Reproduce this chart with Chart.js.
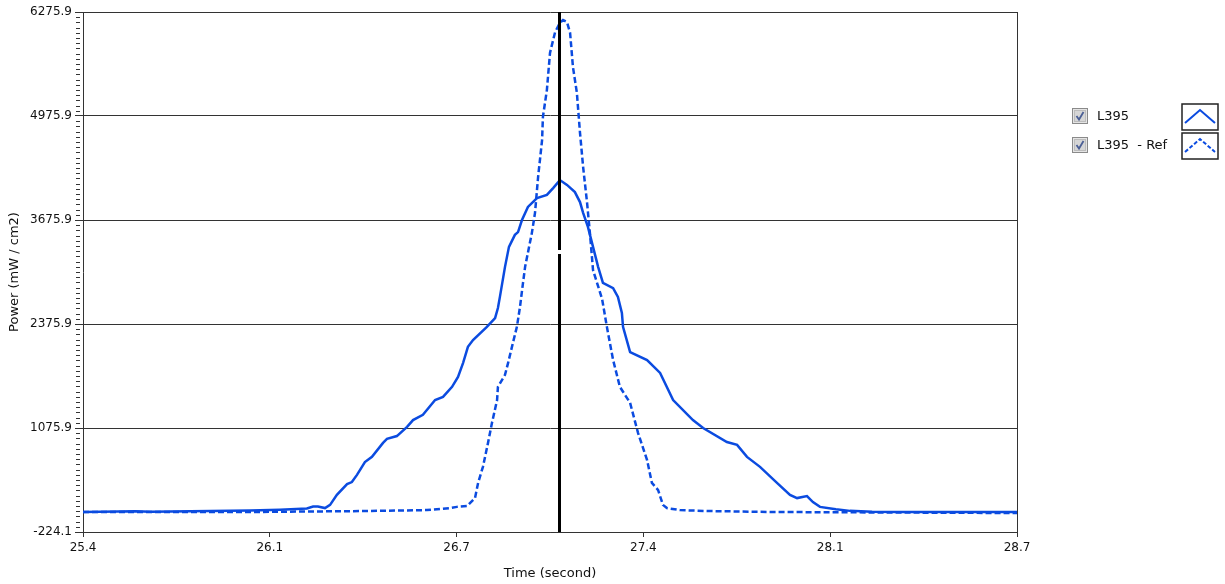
<!DOCTYPE html>
<html>
<head>
<meta charset="utf-8">
<title>L395 power</title>
<script src="https://cdn.jsdelivr.net/npm/chart.js@4.4.1/dist/chart.umd.min.js"></script>
<style>
  html, body { margin: 0; padding: 0; background: #fff; }
  #wrap { position: relative; width: 1225px; height: 584px; }
  .lbl { position: absolute; font: 13px "DejaVu Sans", sans-serif; color: #111; white-space: pre; line-height: 15px; }
  .chk, .ico { position: absolute; }
</style>
</head>
<body>
<div id="wrap">
  <canvas id="powerChart" width="1225" height="584"></canvas>

  <!-- legend with check boxes, like the original panel -->
  <svg class="chk" style="left:1072px;top:108px" width="16" height="16">
    <rect x="0.5" y="0.5" width="15" height="15" fill="#e4e4e4" stroke="#8a8a8a"/>
    <rect x="2.5" y="2.5" width="11" height="11" fill="#d6d6d6" stroke="#bcbcbc"/>
    <polyline points="4.5,8 7,11.5 11.5,4" fill="none" stroke="#4b5f95" stroke-width="1.8"/>
  </svg>
  <div class="lbl" style="left:1097px;top:108px">L395</div>
  <svg class="ico" style="left:1181px;top:103px" width="38" height="28">
    <rect x="1" y="1" width="36" height="26" fill="#fff" stroke="#222" stroke-width="1.5"/>
    <polyline points="4,20 19,7 34,20" fill="none" stroke="#0b4be0" stroke-width="2"/>
  </svg>

  <svg class="chk" style="left:1072px;top:137px" width="16" height="16">
    <rect x="0.5" y="0.5" width="15" height="15" fill="#e4e4e4" stroke="#8a8a8a"/>
    <rect x="2.5" y="2.5" width="11" height="11" fill="#d6d6d6" stroke="#bcbcbc"/>
    <polyline points="4.5,8 7,11.5 11.5,4" fill="none" stroke="#4b5f95" stroke-width="1.8"/>
  </svg>
  <div class="lbl" style="left:1097px;top:137px">L395  - Ref</div>
  <svg class="ico" style="left:1181px;top:132px" width="38" height="28">
    <rect x="1" y="1" width="36" height="26" fill="#fff" stroke="#222" stroke-width="1.5"/>
    <polyline points="4,20 19,7 34,20" fill="none" stroke="#0b4be0" stroke-width="2" stroke-dasharray="4,2"/>
  </svg>
</div>

<script>
// data
const solidTime = [25.400, 25.585, 25.640, 25.990, 26.096, 26.191, 26.213, 26.230, 26.255, 26.273,
  26.297, 26.333, 26.350, 26.368, 26.396, 26.421, 26.460, 26.474, 26.509, 26.545,
  26.566, 26.601, 26.644, 26.672, 26.704, 26.725, 26.743, 26.760, 26.778, 26.827,
  26.856, 26.866, 26.873, 26.891, 26.905, 26.926, 26.937, 26.951, 26.972, 27.004,
  27.039, 27.061, 27.085, 27.110, 27.138, 27.156, 27.167, 27.184, 27.202, 27.220,
  27.237, 27.273, 27.290, 27.304, 27.308, 27.333, 27.393, 27.439, 27.485, 27.555,
  27.591, 27.675, 27.711, 27.746, 27.792, 27.852, 27.898, 27.923, 27.958, 27.979,
  28.004, 28.060, 28.110, 28.188, 28.287, 28.700];
const solidPower = [26, 35, 30, 45, 55, 70, 95, 95, 75, 115,
  240, 375, 400, 490, 650, 715, 890, 940, 975, 1090,
  1175, 1240, 1425, 1465, 1590, 1715, 1890, 2090, 2175, 2340,
  2450, 2575, 2715, 3090, 3340, 3490, 3525, 3675, 3840, 3950,
  3990, 4075, 4175, 4115, 4025, 3900, 3765, 3590, 3340, 3090,
  2890, 2825, 2715, 2515, 2340, 2025, 1925, 1765, 1425, 1175,
  1075, 900, 865, 715, 590, 390, 240, 200, 225, 150,
  90, 60, 40, 30, 26, 26];

const refTime = [25.400, 25.990, 26.396, 26.615, 26.697, 26.721, 26.757, 26.785, 26.796, 26.813,
  26.831, 26.845, 26.863, 26.866, 26.891, 26.902, 26.919, 26.933, 26.944, 26.955,
  26.962, 26.986, 26.997, 27.008, 27.022, 27.025, 27.039, 27.050, 27.068, 27.085,
  27.096, 27.110, 27.121, 27.131, 27.145, 27.156, 27.167, 27.181, 27.191, 27.202,
  27.234, 27.251, 27.273, 27.297, 27.333, 27.361, 27.393, 27.410, 27.432, 27.449,
  27.463, 27.509, 27.605, 27.838, 28.700];
const refPower = [26, 26, 38, 50, 75, 90, 100, 200, 390, 590,
  890, 1140, 1425, 1590, 1740, 1890, 2140, 2340, 2590, 2900,
  3090, 3515, 3765, 4215, 4675, 4965, 5300, 5765, 6025, 6140,
  6175, 6150, 6015, 5590, 5265, 4765, 4340, 3890, 3515, 3050,
  2690, 2340, 1925, 1590, 1390, 1015, 675, 390, 300, 115,
  75, 50, 38, 26, 13];

const xTickLabels = ['25.4', '26.1', '26.7', '27.4', '28.1', '28.7'];
const yTickLabels = ['-224.1', '1075.9', '2375.9', '3675.9', '4975.9', '6275.9'];
const cursorTime = 27.082;
const cursorGap = [3250, 3300];

const xMin = Number(xTickLabels[0]);
const xMax = Number(xTickLabels[xTickLabels.length - 1]);
const yTickValues = yTickLabels.map(Number);
const yMinorPerMajor = 20;
const blue = '#0b4be0';
const axisColor = '#333';
const tickFont = { family: 'DejaVu Sans', size: 12 };
const titleFont = { family: 'DejaVu Sans', size: 13 };

// vertical cursor line (with its little gap) and short minor ticks on y
const cursorLine = {
  id: 'cursorLine',
  afterDatasetsDraw(chart) {
    const { ctx, chartArea, scales } = chart;
    const px = Math.round(scales.x.getPixelForValue(cursorTime)) + 0.5;
    const gapTop = scales.y.getPixelForValue(cursorGap[1]);
    const gapBottom = scales.y.getPixelForValue(cursorGap[0]);
    ctx.save();
    ctx.strokeStyle = '#000';
    ctx.lineWidth = 3;
    ctx.beginPath();
    ctx.moveTo(px, chartArea.top);
    ctx.lineTo(px, gapTop);
    ctx.moveTo(px, gapBottom);
    ctx.lineTo(px, chartArea.bottom);
    ctx.stroke();

    // minor ticks
    const y = scales.y;
    ctx.strokeStyle = axisColor;
    ctx.lineWidth = 1;
    ctx.beginPath();
    y.ticks.forEach((t, i) => {
      if (i % yMinorPerMajor === 0) return;
      const py = Math.round(y.getPixelForValue(t.value)) + 0.5;
      ctx.moveTo(chartArea.left - 7, py);
      ctx.lineTo(chartArea.left - 3, py);
    });
    ctx.stroke();
    ctx.restore();
  }
};

const ctx = document.getElementById('powerChart').getContext('2d');
const powerChart = new Chart(ctx, {
  type: 'line',
  data: {
    datasets: [
      {
        label: 'L395',
        data: solidTime.map((t, i) => ({ x: t, y: solidPower[i] })),
        borderColor: blue,
        borderWidth: 2.5,
        pointRadius: 0,
        tension: 0,
        fill: false
      },
      {
        label: 'L395  - Ref',
        data: refTime.map((t, i) => ({ x: t, y: refPower[i] })),
        borderColor: blue,
        borderWidth: 2.5,
        borderDash: [6, 3],
        pointRadius: 0,
        tension: 0,
        fill: false
      }
    ]
  },
  options: {
    responsive: false,
    animation: false,
    devicePixelRatio: 1,
    layout: { padding: { top: 12, right: 208, left: 0, bottom: 0 } },
    plugins: {
      legend: { display: false },
      tooltip: { enabled: false }
    },
    scales: {
      x: {
        type: 'linear',
        min: xMin,
        max: xMax,
        afterBuildTicks(axis) {
          const n = xTickLabels.length - 1;
          axis.ticks = xTickLabels.map((_, i) => ({ value: xMin + i * (xMax - xMin) / n }));
        },
        afterFit(axis) { axis.height = 52; },
        ticks: {
          autoSkip: false,
          maxRotation: 0,
          padding: 4,
          color: '#111',
          font: tickFont,
          callback: (v, i) => xTickLabels[i]
        },
        grid: {
          color: (c) => c.index === xTickLabels.length - 1 ? axisColor : 'rgba(0,0,0,0)',
          tickColor: axisColor,
          tickLength: 5
        },
        border: { color: axisColor, width: 1 },
        title: {
          display: true,
          text: 'Time (second)',
          color: '#111',
          font: titleFont,
          padding: { top: 3, bottom: 3 }
        }
      },
      y: {
        type: 'linear',
        min: yTickValues[0],
        max: yTickValues[yTickValues.length - 1],
        afterBuildTicks(axis) {
          const ticks = [];
          for (let i = 0; i < yTickValues.length - 1; i++) {
            const a = yTickValues[i], b = yTickValues[i + 1];
            for (let k = 0; k < yMinorPerMajor; k++) {
              ticks.push({ value: a + (b - a) * k / yMinorPerMajor });
            }
          }
          ticks.push({ value: yTickValues[yTickValues.length - 1] });
          axis.ticks = ticks;
        },
        afterFit(axis) { axis.width = 83; },
        ticks: {
          autoSkip: false,
          padding: 3,
          color: '#111',
          font: tickFont,
          callback: (v, i) => i % yMinorPerMajor === 0 ? yTickLabels[i / yMinorPerMajor] : ''
        },
        grid: {
          color: (c) => c.index % yMinorPerMajor === 0 ? axisColor : 'rgba(0,0,0,0)',
          tickColor: (c) => c.index % yMinorPerMajor === 0 ? axisColor : 'rgba(0,0,0,0)',
          tickLength: 8
        },
        border: { color: axisColor, width: 1 },
        title: {
          display: true,
          text: 'Power (mW / cm2)',
          color: '#111',
          font: titleFont,
          padding: { top: 7, bottom: 7 }
        }
      }
    }
  },
  plugins: [cursorLine]
});
</script>
</body>
</html>
